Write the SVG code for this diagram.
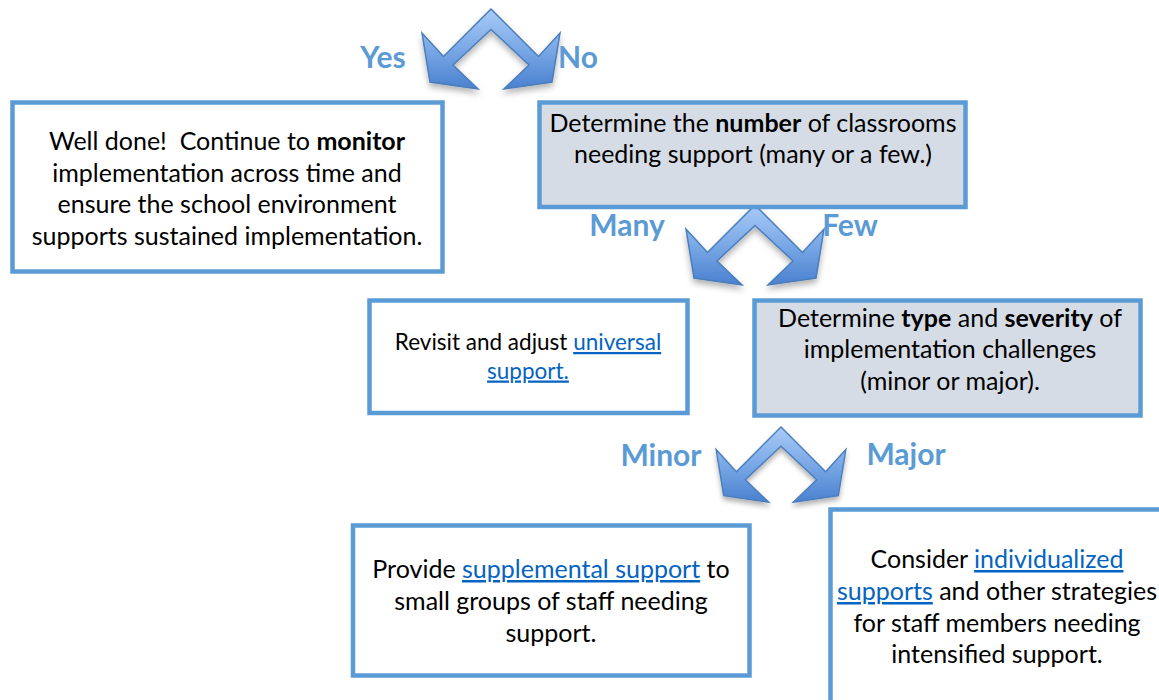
<svg xmlns="http://www.w3.org/2000/svg" width="1159" height="700" viewBox="0 0 1159 700">
<style>
.box{fill:#FFFFFF;stroke:#5B9BD5;stroke-width:4.5}
.shaded{fill:#D6DCE5;stroke:#5B9BD5;stroke-width:4.5}
.t{font-family:Lato,"Liberation Sans",sans-serif;font-size:25px;fill:#000000;text-anchor:middle}
.s{font-size:22.5px}
.b{font-weight:bold}
.lnk{fill:#0563C1;text-decoration:underline}
.lbl{font-family:Lato,"Liberation Sans",sans-serif;font-size:30px;font-weight:bold;fill:#5B9BD5}
.arr{fill:url(#ag);stroke:#4A7EBB;stroke-width:1.5;stroke-linejoin:miter;filter:url(#sh)}
</style>
<defs>
<linearGradient id="ag" x1="0" y1="0" x2="0" y2="1">
<stop offset="0" stop-color="#A9CBF8"/>
<stop offset="0.5" stop-color="#7AA8E6"/>
<stop offset="1" stop-color="#4A81CF"/>
</linearGradient>
<filter id="sh" x="-20%" y="-20%" width="140%" height="150%">
<feDropShadow dx="0" dy="4" stdDeviation="3" flood-color="#000000" flood-opacity="0.3"/>
</filter>
<path id="chev" d="M0,0 L47.5,47.5 L69,24 L61,73 L13,80 L38,56 L0,20.5 L-38,56 L-13,80 L-61,73 L-69,24 L-47.5,47.5 Z"/>
</defs>
<rect width="1159" height="700" fill="#FFFFFF"/>

<g id="connectors">
<use href="#chev" class="arr" transform="translate(491,9)"/>
<use href="#chev" class="arr" transform="translate(755,205)"/>
<use href="#chev" class="arr" transform="translate(781,427) scale(0.94)"/>
<text class="lbl" x="383" y="68" text-anchor="middle">Yes</text>
<text class="lbl" x="578" y="68" text-anchor="middle">No</text>
<text class="lbl" x="627" y="236" text-anchor="middle">Many</text>
<text class="lbl" x="850" y="236" text-anchor="middle">Few</text>
<text class="lbl" x="661" y="466" text-anchor="middle">Minor</text>
<text class="lbl" x="906" y="465" text-anchor="middle">Major</text>
</g>

<g id="box-done">
<rect class="box" x="12.5" y="102.5" width="430" height="169"/>
<text class="t" x="227" y="150">Well done!&#160; Continue to <tspan class="b">monitor</tspan></text>
<text class="t" x="227" y="181.5">implementation across time and</text>
<text class="t" x="227" y="213">ensure the school environment</text>
<text class="t" x="227" y="244.5">supports sustained implementation.</text>
</g>

<g id="box-number">
<rect class="shaded" x="539.5" y="102.5" width="426" height="104.5"/>
<text class="t" x="753" y="131.5">Determine the <tspan class="b">number</tspan> of classrooms</text>
<text class="t" x="753" y="163">needing support (many or a few.)</text>
</g>

<g id="box-universal">
<rect class="box" x="369.5" y="300.5" width="318" height="112.5"/>
<text class="t s" x="528" y="350">Revisit and adjust <tspan class="lnk">universal</tspan></text>
<text class="t s" x="528" y="378.5"><tspan class="lnk">support.</tspan></text>
</g>

<g id="box-type">
<rect class="shaded" x="754.5" y="300.5" width="386" height="115"/>
<text class="t" x="950" y="326.5">Determine <tspan class="b">type</tspan> and <tspan class="b">severity</tspan> of</text>
<text class="t" x="950" y="358">implementation challenges</text>
<text class="t" x="950" y="390">(minor or major).</text>
</g>

<g id="box-supplemental">
<rect class="box" x="353" y="525.5" width="396.5" height="150"/>
<text class="t" x="551" y="578">Provide <tspan class="lnk">supplemental support</tspan> to</text>
<text class="t" x="551" y="610">small groups of staff needing</text>
<text class="t" x="551" y="641.5">support.</text>
</g>

<g id="box-individualized">
<rect class="box" x="830.5" y="509.5" width="340" height="200"/>
<text class="t" x="997" y="568">Consider <tspan class="lnk">individualized</tspan></text>
<text class="t" x="997" y="600"><tspan class="lnk">supports</tspan> and other strategies</text>
<text class="t" x="997" y="632">for staff members needing</text>
<text class="t" x="997" y="663">intensified support.</text>
</g>
</svg>
